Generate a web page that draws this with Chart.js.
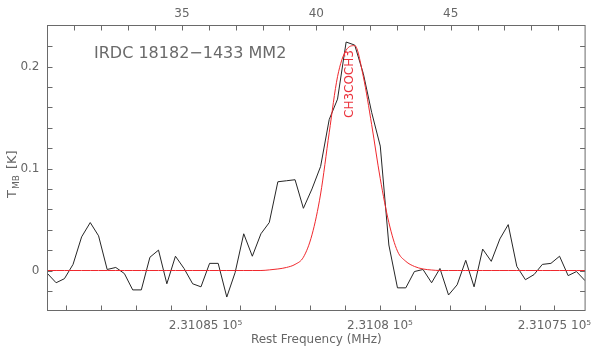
<!DOCTYPE html>
<html><head><meta charset="utf-8">
<script src="https://cdn.jsdelivr.net/npm/chart.js@4/dist/chart.umd.min.js"></script>
<style>html,body{margin:0;padding:0;background:#fff;}#wrap{width:600px;height:347px;position:relative}</style>
</head><body><div id="wrap"><canvas id="c" width="600" height="347"></canvas></div>
<script>
// LSR velocity of each channel (km/s), top axis
const velocity = [30.00,30.32,30.63,30.95,31.27,31.59,31.90,32.22,32.54,32.86,33.17,33.49,33.81,34.13,34.44,34.76,
  35.08,35.40,35.71,36.03,36.35,36.67,36.98,37.30,37.62,37.94,38.25,38.57,38.89,39.21,39.52,39.84,
  40.16,40.48,40.79,41.11,41.43,41.75,42.06,42.38,42.70,43.02,43.33,43.65,43.97,44.29,44.60,44.92,
  45.24,45.56,45.87,46.19,46.51,46.83,47.14,47.46,47.78,48.10,48.41,48.73,49.05,49.37,49.68,50.00];
// observed spectrum T_MB (K)
const observedT = [-0.003,-0.012,-0.008,0.006,0.033,0.047,0.034,0.001,0.003,-0.003,-0.019,-0.019,0.013,0.020,-0.013,0.014,
  0.002,-0.013,-0.016,0.007,0.007,-0.026,-0.002,0.036,0.014,0.036,0.047,0.087,0.088,0.089,0.061,0.080,
  0.102,0.148,0.168,0.224,0.221,0.193,0.155,0.122,0.025,-0.017,-0.017,-0.001,0.001,-0.012,0.002,-0.024,
  -0.014,0.010,-0.016,0.021,0.009,0.031,0.045,0.004,-0.009,-0.004,0.006,0.007,0.014,-0.005,-0.001,-0.010];
// CH3COCH3 model fit T_MB (K)
const modelT = [0,0,0,0,0,0,0,0,0,0,0,0,0,0,0,0,
  0,0,0,0,0,0,0,0,0,0,0.0006,0.0015,0.003,0.006,0.013,0.035,
  0.075,0.135,0.190,0.216,0.2205,0.190,0.143,0.090,0.047,0.019,0.009,0.004,0.0015,0.0005,0,0,
  0,0,0,0,0,0,0,0,0,0,0,0,0,0,0,0];
const velocityTicks = [35, 40, 45];
const freqTicks = [231085, 231080, 231075];
const freqTickLabels = ['2.31085 10\u2075', '2.3108 10\u2075', '2.31075 10\u2075'];
const tempTicks = [0, 0.1, 0.2];
const tempTickLabels = ['0', '0.1', '0.2'];
const velocityMinorTicks = [31,32,33,34,36,37,38,39,41,42,43,44,46,47,48,49];
const freqMinorTicks = [231076,231077,231078,231079,231081,231082,231083,231084,231086,231087,231088,231089];
const tempMinorTicks = [-0.02,0.02,0.04,0.06,0.08,0.12,0.14,0.16,0.18,0.22];
const sourceName = 'IRDC 18182\u22121433 MM2';
const lineName = 'CH3COCH3';
const xTitle = 'Rest Frequency (MHz)';
const vRange = [30, 50];
const fRange = [231074.12, 231089.53];
const tRange = [-0.0392, 0.2402];

const FONT = 'DejaVu Sans';
const TXT = '#666';

const framePlugin = {
  id: 'frame',
  afterDraw(chart) {
    const {ctx, chartArea: a, scales} = chart;
    const ys = scales.y, xs = scales.x, fs = scales.xf;
    ctx.save();
    ctx.strokeStyle = '#6a6a6a';
    ctx.lineWidth = 1;
    ctx.strokeRect(a.left, a.top, a.right - a.left, a.bottom - a.top);
    const L = 5;
    ctx.beginPath();
    tempTicks.concat(tempMinorTicks).forEach(t => {
      const y = Math.round(ys.getPixelForValue(t)) + 0.5;
      ctx.moveTo(a.left, y); ctx.lineTo(a.left + L, y);
      ctx.moveTo(a.right, y); ctx.lineTo(a.right - L, y);
    });
    velocityTicks.concat(velocityMinorTicks).forEach(v => {
      const x = Math.round(xs.getPixelForValue(v)) + 0.5;
      ctx.moveTo(x, a.top); ctx.lineTo(x, a.top + L);
    });
    freqTicks.concat(freqMinorTicks).forEach(f => {
      const x = Math.round(fs.getPixelForValue(f)) + 0.5;
      ctx.moveTo(x, a.bottom); ctx.lineTo(x, a.bottom - L);
    });
    ctx.stroke();

    // source name
    ctx.fillStyle = '#6a6a6a';
    ctx.font = '16px "' + FONT + '"';
    ctx.textBaseline = 'alphabetic';
    ctx.textAlign = 'left';
    ctx.fillText(sourceName, 94, 57.5);

    // line label (rotated)
    ctx.save();
    ctx.translate(352.5, 118);
    ctx.rotate(-Math.PI / 2);
    ctx.fillStyle = 'rgb(235,50,60)';
    ctx.font = '12px "' + FONT + '"';
    ctx.fillText(lineName, 0, 0);
    ctx.restore();

    // y title T_MB [K]
    ctx.save();
    ctx.translate(16, 198);
    ctx.rotate(-Math.PI / 2);
    ctx.fillStyle = TXT;
    ctx.font = '13px "' + FONT + '"';
    ctx.fillText('T', 0, 0);
    const wT = ctx.measureText('T').width;
    ctx.font = '9px "' + FONT + '"';
    ctx.fillText('MB', wT + 1, 3);
    const wMB = ctx.measureText('MB').width;
    ctx.font = '13px "' + FONT + '"';
    ctx.fillText(' [K]', wT + wMB + 3, 0);
    ctx.restore();

    ctx.restore();
  }
};

new Chart(document.getElementById('c'), {
  type: 'line',
  data: {
    datasets: [
      {
        label: lineName,
        data: velocity.map((v, i) => ({x: v, y: modelT[i]})),
        borderColor: 'rgb(240,40,45)',
        borderWidth: 1,
        pointRadius: 0,
        cubicInterpolationMode: 'monotone',
        xAxisID: 'x', yAxisID: 'y'
      },
      {
        label: sourceName,
        data: velocity.map((v, i) => ({x: v, y: observedT[i]})),
        borderColor: '#262626',
        borderWidth: 1,
        pointRadius: 0,
        tension: 0,
        xAxisID: 'x', yAxisID: 'y'
      }
    ]
  },
  options: {
    responsive: false,
    animation: false,
    devicePixelRatio: 1,
    layout: {padding: {left: 0, right: 9.5, top: 0, bottom: 0}},
    plugins: {legend: {display: false}, tooltip: {enabled: false}, title: {display: false}},
    scales: {
      x: {
        type: 'linear', position: 'top', min: vRange[0], max: vRange[1],
        grid: {display: false, drawTicks: false}, border: {display: false},
        ticks: {color: TXT, font: {family: FONT, size: 12}, padding: 4, maxRotation: 0, autoSkip: false,
          callback: v => String(v)},
        afterBuildTicks: s => { s.ticks = velocityTicks.map(v => ({value: v})); },
        afterFit: s => { s.height = 25.5; }
      },
      xf: {
        type: 'linear', position: 'bottom', reverse: true, min: fRange[0], max: fRange[1],
        grid: {display: false, drawTicks: false}, border: {display: false},
        ticks: {color: TXT, font: {family: FONT, size: 12}, padding: 8, maxRotation: 0, autoSkip: false,
          callback: v => { const i = freqTicks.indexOf(v); return i >= 0 ? freqTickLabels[i] : ''; }},
        title: {display: true, text: xTitle, color: TXT, font: {family: FONT, size: 12}, padding: {top: 0, bottom: 0}},
        afterBuildTicks: s => { s.ticks = freqTicks.map(v => ({value: v})); },
        afterFit: s => { s.height = 36.5; }
      },
      y: {
        type: 'linear', position: 'left', min: tRange[0], max: tRange[1],
        grid: {display: false, drawTicks: false}, border: {display: false},
        ticks: {color: TXT, font: {family: FONT, size: 12}, padding: 8,
          callback: v => { const i = tempTicks.indexOf(v); return i >= 0 ? tempTickLabels[i] : ''; }},
        afterBuildTicks: s => { s.ticks = tempTicks.map(v => ({value: v})); },
        afterFit: s => { s.width = 47.5; }
      }
    }
  },
  plugins: [framePlugin]
});
</script>
</body></html>
